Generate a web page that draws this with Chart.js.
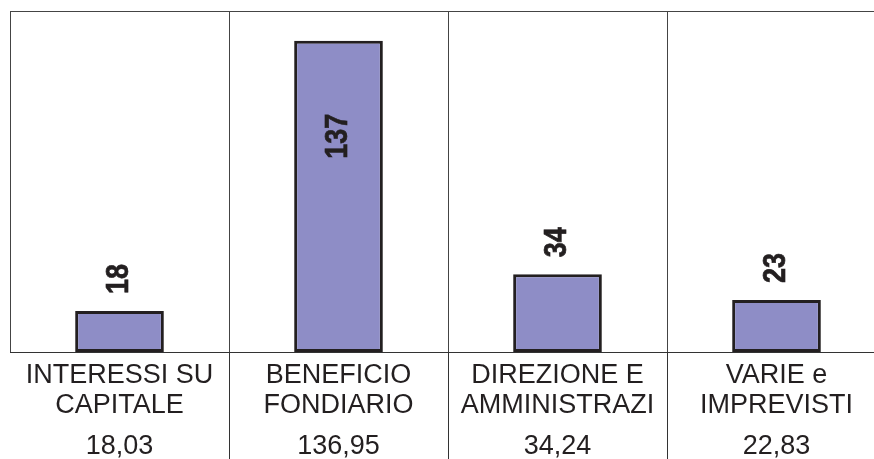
<!DOCTYPE html>
<html>
<head>
<meta charset="utf-8">
<script src="https://cdn.jsdelivr.net/npm/chart.js@4/dist/chart.umd.min.js"></script>
<style>
  html, body { margin: 0; padding: 0; background: #fff; overflow: hidden; }
  canvas { display: block; }
</style>
</head>
<body>
<canvas id="chart" width="886" height="464"></canvas>
<script>
// Cost items (two-line category names) and their amounts
const categories = [
  ["INTERESSI SU", "CAPITALE"],
  ["BENEFICIO", "FONDIARIO"],
  ["DIREZIONE E", "AMMINISTRAZI"],
  ["VARIE e", "IMPREVISTI"]
];
const costs = [18.03, 136.95, 34.24, 22.83];
const yMin = 0;
const yMax = 150;

// Amounts as shown in the table row (Italian decimal comma)
const costLabels = costs.map(v => v.toFixed(2).replace('.', ','));

const FONT = '"Liberation Sans", Arial, Helvetica, sans-serif';
const TEXT = '#231f20';

// Rounded values written vertically above (or inside) each bar
const barValueLabels = {
  id: 'barValueLabels',
  afterDatasetsDraw(chart) {
    const { ctx, chartArea } = chart;
    const meta = chart.getDatasetMeta(0);
    ctx.save();
    ctx.fillStyle = TEXT;
    ctx.strokeStyle = TEXT;
    ctx.lineWidth = 0.6;
    ctx.font = 'bold 27px ' + FONT;
    ctx.textBaseline = 'middle';
    ctx.textAlign = 'left';
    meta.data.forEach((bar, i) => {
      const text = String(Math.round(costs[i]));
      const len = ctx.measureText(text).width;
      let anchor = bar.y - 17;
      if (anchor - len < chartArea.top + 4) anchor = bar.y + 118;
      ctx.save();
      ctx.translate(bar.x, anchor);
      ctx.scale(1.18, 1);
      ctx.rotate(-Math.PI / 2);
      ctx.fillText(text, 0, 0);
      ctx.strokeText(text, 0, 0);
      ctx.restore();
    });
    ctx.restore();
  }
};

// Top frame line and the column separators of the table under the axis
const frameLines = {
  id: 'frameLines',
  afterDraw(chart) {
    const { ctx, chartArea } = chart;
    const xs = chart.scales.x;
    ctx.save();
    ctx.lineWidth = 1;
    ctx.strokeStyle = '#444';
    ctx.beginPath();
    ctx.moveTo(chartArea.left, chartArea.top + 0.5);
    ctx.lineTo(chartArea.right, chartArea.top + 0.5);
    ctx.stroke();
    ctx.strokeStyle = '#333';
    for (let i = 1; i < categories.length; i++) {
      const x = Math.round((xs.getPixelForValue(i - 1) + xs.getPixelForValue(i)) / 2) + 0.5;
      ctx.beginPath();
      ctx.moveTo(x, chartArea.bottom);
      ctx.lineTo(x, chart.height);
      ctx.stroke();
    }
    ctx.restore();
  }
};

new Chart(document.getElementById('chart'), {
  type: 'bar',
  data: {
    labels: categories,
    datasets: [{
      data: costs,
      backgroundColor: '#8e8dc6',
      borderColor: TEXT,
      borderWidth: 3,
      borderSkipped: false,
      categoryPercentage: 1,
      barPercentage: 0.405
    }]
  },
  options: {
    responsive: false,
    animation: false,
    devicePixelRatio: 1,
    layout: { padding: { top: 11, left: 10, right: 0, bottom: 0 } },
    plugins: { legend: { display: false }, tooltip: { enabled: false } },
    scales: {
      y: { display: false, min: yMin, max: yMax },
      x: {
        type: 'category',
        offset: true,
        grid: { display: true, offset: true, drawTicks: false, color: '#444', lineWidth: 1 },
        border: { display: true, color: '#333', width: 1 },
        ticks: {
          autoSkip: false, maxRotation: 0, minRotation: 0, padding: 9, color: TEXT,
          font: { family: FONT, size: 27, lineHeight: 30 / 27 }
        }
      },
      x2: {
        type: 'category',
        labels: costLabels,
        position: 'bottom',
        offset: true,
        grid: { display: false, drawTicks: false },
        border: { display: false },
        ticks: {
          autoSkip: false, maxRotation: 0, minRotation: 0, padding: 2, color: TEXT,
          font: { family: FONT, size: 27, lineHeight: 30 / 27 }
        }
      }
    }
  },
  plugins: [barValueLabels, frameLines]
});
</script>
</body>
</html>
